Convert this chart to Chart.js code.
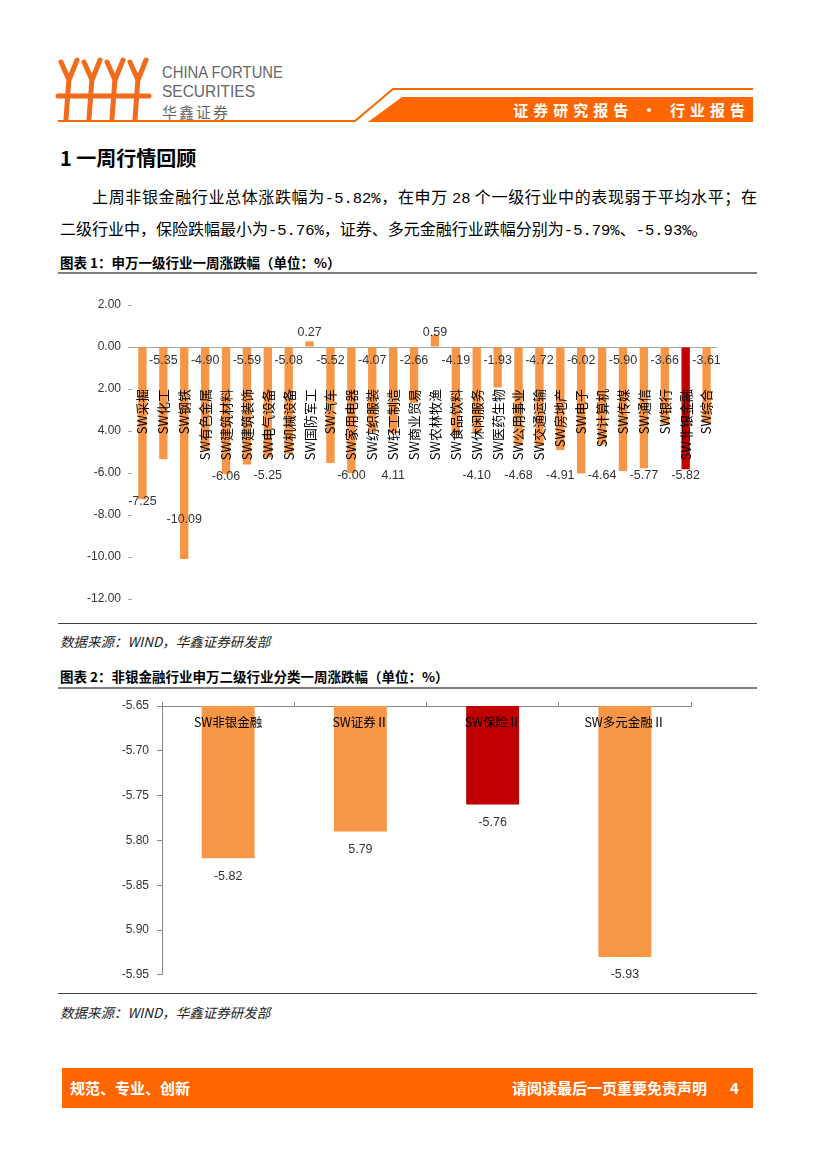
<!DOCTYPE html>
<html lang="zh-CN">
<head>
<meta charset="utf-8">
<title>非银金融行业周报</title>
<script src="https://cdn.jsdelivr.net/npm/chart.js@4.4.1/dist/chart.umd.min.js"></script>
<style>
  html, body { margin: 0; padding: 0; background: #fff; }
  body { width: 827px; height: 1169px; position: relative; overflow: hidden;
         font-family: "Noto Sans CJK SC", sans-serif; color: #000; }
  .abs { position: absolute; }
  .num { font-family: "Liberation Mono", monospace; font-size: 15.5px; }
  .title { left: 60px; top: 145px; font-size: 20px; font-weight: 700; line-height: 26px; }
  .line { left: 60px; width: 697px; font-size: 16px; line-height: 32px; white-space: nowrap; }
  .cap { left: 60px; font-size: 13.5px; font-weight: 700; line-height: 18px; }
  .src { left: 60px; font-size: 13.5px; font-style: italic; line-height: 18px; color: #222; }
  .rule { left: 58px; width: 699px; }
  .footer { left: 62px; top: 1068px; width: 691px; height: 40px; background: #FF6600;
            color: #fff; font-weight: 700; font-size: 15px; line-height: 40px; }
</style>
</head>
<body>

<svg class="abs" style="left:0;top:0" width="827" height="130">
  <g stroke="#F26B1D" stroke-width="5" stroke-linecap="round" fill="none">
    <path d="M69 78 L66 119 M58 96 L80 96 M69 80 L61 62 M69 80 L77 60"/>
    <path d="M92 78 L89 119 M81 96 L103 96 M92 80 L84 62 M92 80 L100 60"/>
    <path d="M115 78 L112 119 M104 96 L126 96 M115 80 L107 62 M115 80 L123 60"/>
    <path d="M138 78 L135 119 M127 96 L149 96 M138 80 L130 62 M138 80 L146 60"/>
  </g>
  <text x="162" y="78" font-family="Liberation Sans" font-size="16" fill="#666"
        textLength="121" lengthAdjust="spacingAndGlyphs">CHINA FORTUNE</text>
  <text x="162" y="97" font-family="Liberation Sans" font-size="16" fill="#666"
        textLength="93" lengthAdjust="spacingAndGlyphs">SECURITIES</text>
  <text x="162" y="118" font-family="Noto Sans CJK SC" font-size="15" fill="#666"
        textLength="66" lengthAdjust="spacing">华鑫证券</text>
  <polyline points="58,121 355,121 393,89 753,89" stroke="#FF6600" stroke-width="2" fill="none"/>
  <polygon points="368,122 402,97 753,97 753,122" fill="#FF6600"/>
  <text x="750" y="116" text-anchor="end" font-family="Noto Sans CJK SC" font-size="15" font-weight="700"
        fill="#fff" letter-spacing="5">证券研究报告 · 行业报告</text>
</svg>

<div class="abs title">1 一周行情回顾</div>
<div class="abs line" style="top:180px;text-align:justify;text-align-last:justify;white-space:normal;text-indent:32px">上周非银金融行业总体涨跌幅为<span class="num">-5.82%</span>，在申万 <span class="num">28</span> 个一级行业中的表现弱于平均水平；在</div>
<div class="abs line" style="top:212px">二级行业中，保险跌幅最小为<span class="num">-5.76%</span>，证券、多元金融行业跌幅分别为<span class="num">-5.79%</span>、<span class="num">-5.93%</span>。</div>

<div class="abs cap" style="top:253px">图表 1：申万一级行业一周涨跌幅（单位：%）</div>
<div class="abs rule" style="top:272px;height:2px;background:#7f7f7f"></div>
<div class="abs" style="left:60px;top:278px;width:700px;height:340px">
  <canvas id="chart1" width="700" height="340"></canvas>
</div>
<div class="abs rule" style="top:623px;height:1px;background:#404040"></div>
<div class="abs src" style="top:632px">数据来源：WIND，华鑫证券研发部</div>

<div class="abs cap" style="top:667px">图表 2：非银金融行业申万二级行业分类一周涨跌幅（单位：%）</div>
<div class="abs rule" style="top:687px;height:2px;background:#7f7f7f"></div>
<div class="abs" style="left:60px;top:690px;width:700px;height:300px">
  <canvas id="chart2" width="700" height="300"></canvas>
</div>
<div class="abs rule" style="top:993px;height:1px;background:#404040"></div>
<div class="abs src" style="top:1003px">数据来源：WIND，华鑫证券研发部</div>

<div class="abs footer">
  <span style="position:absolute;left:8px">规范、专业、创新</span>
  <span style="position:absolute;left:450px">请阅读最后一页重要免责声明</span>
  <span style="position:absolute;left:668px">4</span>
</div>

<script>
// chart 1: SW first-level industries, weekly change (%)
const categories1 = ["SW采掘", "SW化工", "SW钢铁", "SW有色金属", "SW建筑材料", "SW建筑装饰",
  "SW电气设备", "SW机械设备", "SW国防军工", "SW汽车", "SW家用电器", "SW纺织服装",
  "SW轻工制造", "SW商业贸易", "SW农林牧渔", "SW食品饮料", "SW休闲服务", "SW医药生物",
  "SW公用事业", "SW交通运输", "SW房地产", "SW电子", "SW计算机", "SW传媒",
  "SW通信", "SW银行", "SW非银金融", "SW综合"];
const values1 = [-7.25, -5.35, -10.09, -4.90, -6.06, -5.59, -5.25, -5.08, 0.27, -5.52,
  -6.00, -4.07, -4.11, -2.66, 0.59, -4.19, -4.10, -1.93, -4.68, -4.72,
  -4.91, -6.02, -4.64, -5.90, -5.77, -3.66, -5.82, -3.61];
const highlight1 = "SW非银金融";
// tick labels as printed, top to bottom
const yTicks1 = ["2.00", "0.00", "2.00", "4.00", "-6.00", "-8.00", "-10.00", "-12.00"];
const noMinus1 = [12]; // value label printed without the sign

// chart 2: SW second-level non-bank financials
const categories2 = ["SW非银金融", "SW证券Ⅱ", "SW保险Ⅱ", "SW多元金融Ⅱ"];
const values2 = [-5.82, -5.79, -5.76, -5.93];
const highlight2 = "SW保险Ⅱ";
const yTicks2 = ["-5.65", "-5.70", "-5.75", "5.80", "-5.85", "5.90", "-5.95"];
const noMinus2 = [1];

const ORANGE = "#F79646";
const DARKRED = "#C00000";
const AXIS = "#A6A6A6";
const numFont = '12.5px "Liberation Sans", sans-serif';

function fmt(v, i, plain) {
  const s = v.toFixed(2);
  return plain.includes(i) ? s.replace("-", "") : s;
}

const labels1 = {
  id: "labels1",
  afterDatasetsDraw(chart) {
    const { ctx, scales: { x, y } } = chart;
    const zero = y.getPixelForValue(0);
    ctx.save();
    // category names, rotated, drawn over the bars
    ctx.font = '13px "Noto Sans CJK SC", sans-serif';
    ctx.fillStyle = "#000";
    ctx.textAlign = "right";
    ctx.textBaseline = "middle";
    categories1.forEach((c, i) => {
      ctx.save();
      ctx.translate(x.getPixelForValue(i), zero + 42);
      ctx.rotate(-Math.PI / 2);
      ctx.fillText(c, 0, 0);
      ctx.restore();
    });
    // value labels: odd ones just under the axis, even ones near the bar end
    ctx.font = numFont;
    ctx.fillStyle = "#333";
    ctx.textAlign = "center";
    values1.forEach((v, i) => {
      let py;
      if (v >= 0) py = zero - 14;
      else if (i % 2) py = zero + 14;
      else py = y.getPixelForValue(Math.min(Math.max(v - 0.1, -8.2), -6.1));
      ctx.fillText(fmt(v, i, noMinus1), x.getPixelForValue(i), py);
    });
    ctx.restore();
  }
};

new Chart(document.getElementById("chart1"), {
  type: "bar",
  data: {
    labels: categories1,
    datasets: [{
      data: values1,
      backgroundColor: categories1.map(c => c === highlight1 ? DARKRED : ORANGE),
      barPercentage: 0.4,
      categoryPercentage: 1
    }]
  },
  options: {
    responsive: false,
    animation: false,
    layout: { padding: { top: 27, right: 43, bottom: 19, left: 0 } },
    plugins: { legend: { display: false }, tooltip: { enabled: false } },
    scales: {
      x: { display: false },
      y: {
        min: -12,
        max: 2,
        afterFit: s => { s.width = 72; },
        border: { display: false },
        grid: {
          color: c => (c.tick && c.tick.value === 0 ? AXIS : "rgba(0,0,0,0)"),
          tickColor: AXIS,
          tickLength: 4
        },
        ticks: {
          stepSize: 2,
          padding: 7,
          color: "#333",
          font: { family: "Liberation Sans", size: 12 },
          callback: (v, i, t) => yTicks1[t.length - 1 - i]
        }
      }
    }
  },
  plugins: [labels1]
});

const labels2 = {
  id: "labels2",
  afterDatasetsDraw(chart) {
    const { ctx, scales: { x, y } } = chart;
    const meta = chart.getDatasetMeta(0);
    ctx.save();
    ctx.textAlign = "center";
    ctx.textBaseline = "middle";
    ctx.font = '12.5px "Noto Sans CJK SC", sans-serif';
    ctx.fillStyle = "#000";
    categories2.forEach((c, i) => {
      ctx.fillText(c, x.getPixelForValue(i), chart.chartArea.top + 16);
    });
    ctx.font = numFont;
    ctx.fillStyle = "#333";
    values2.forEach((v, i) => {
      ctx.fillText(fmt(v, i, noMinus2), meta.data[i].x, y.getPixelForValue(v) + 18);
    });
    ctx.restore();
  }
};

new Chart(document.getElementById("chart2"), {
  type: "bar",
  data: {
    labels: categories2,
    datasets: [{
      data: values2,
      backgroundColor: categories2.map(c => c === highlight2 ? DARKRED : ORANGE),
      barPercentage: 0.4,
      categoryPercentage: 1
    }]
  },
  options: {
    responsive: false,
    animation: false,
    layout: { padding: { top: 12, right: 69, bottom: 14, left: 0 } },
    plugins: { legend: { display: false }, tooltip: { enabled: false } },
    scales: {
      x: {
        position: "top",
        border: { color: "#888" },
        grid: { drawOnChartArea: false, offset: true, color: "#888", tickLength: 4 },
        ticks: { display: false }
      },
      y: {
        min: -5.95,
        max: -5.65,
        afterFit: s => { s.width = 102; },
        border: { color: "#888" },
        grid: { drawOnChartArea: false, color: "#888", tickLength: 5 },
        ticks: {
          stepSize: 0.05,
          padding: 8,
          color: "#333",
          font: { family: "Liberation Sans", size: 12 },
          callback: (v, i, t) => yTicks2[t.length - 1 - i]
        }
      }
    }
  },
  plugins: [labels2]
});
</script>
</body>
</html>
